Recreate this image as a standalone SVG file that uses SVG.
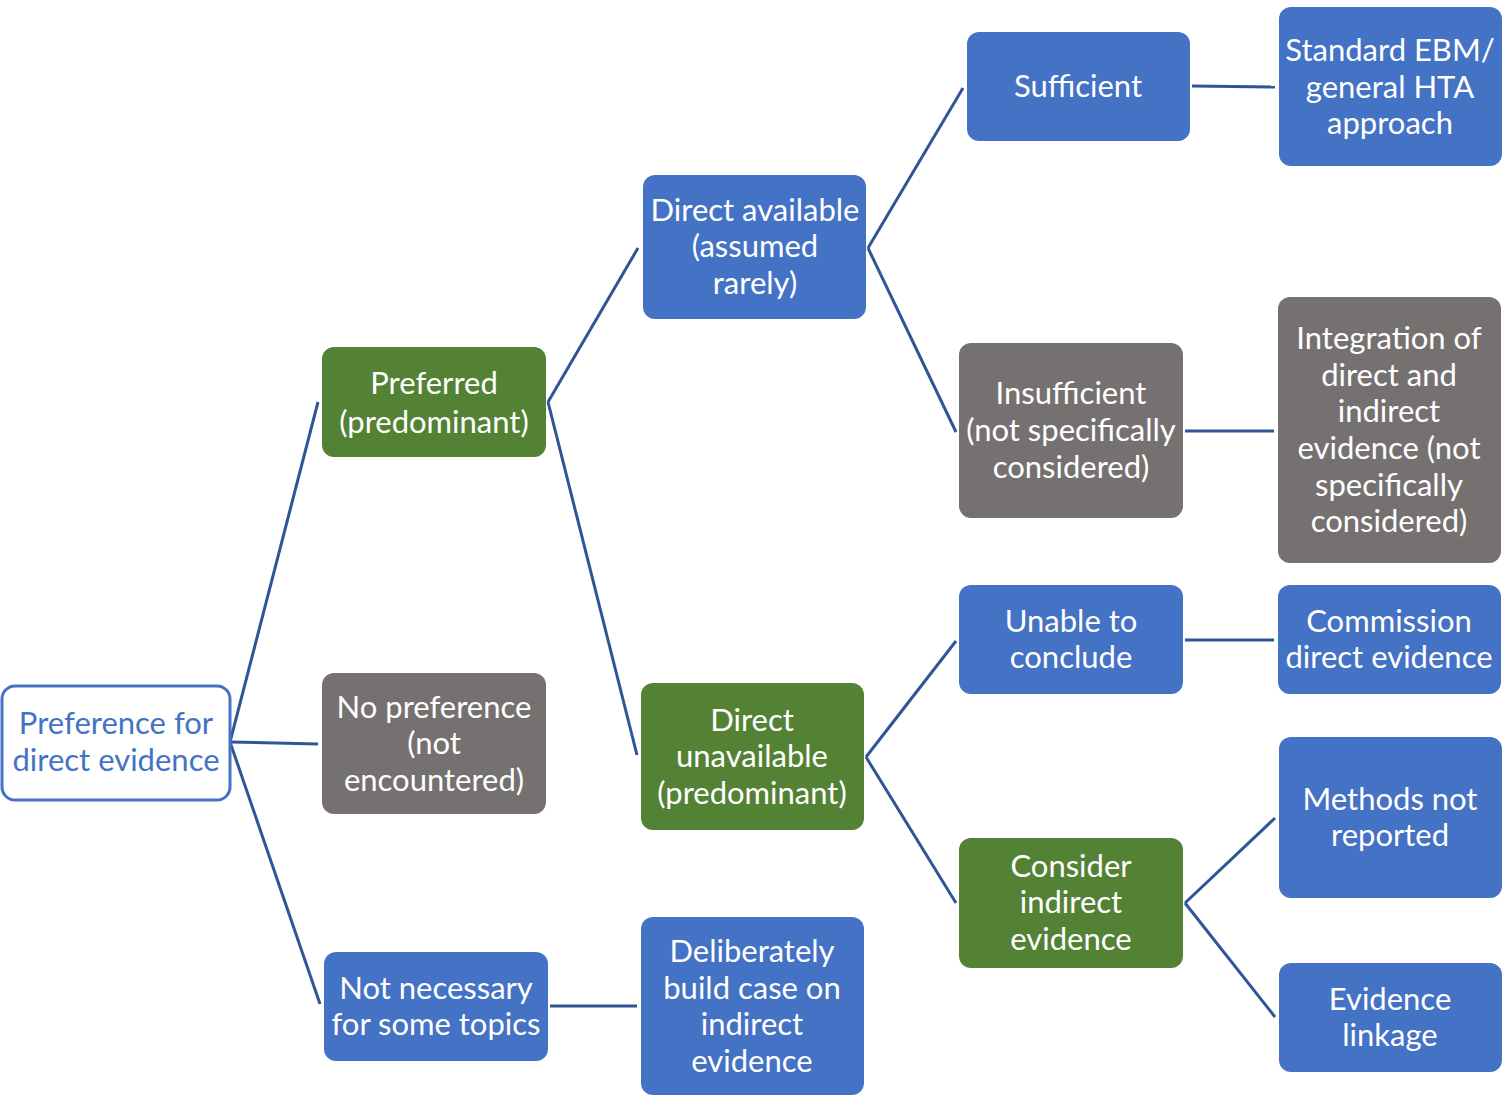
<svg xmlns="http://www.w3.org/2000/svg" width="1508" height="1100" viewBox="0 0 1508 1100">
<style>
.b{fill:#4472C4}
.g{fill:#548235}
.k{fill:#767171}
.w{fill:#ffffff;stroke:#4472C4;stroke-width:3}
text{font-family:Lato,"Open Sans","Liberation Sans",sans-serif;font-size:31px;fill:#ffffff;text-anchor:middle}
.tb{fill:#4472C4}
#connectors line{stroke:#2F5597;stroke-width:3;fill:none}
</style>
<rect width="1508" height="1100" fill="#ffffff"/>
<g id="connectors">
<line x1="230" y1="742" x2="318" y2="402"/>
<line x1="230" y1="742" x2="318" y2="744"/>
<line x1="230" y1="742" x2="320" y2="1004"/>
<line x1="548" y1="402" x2="638" y2="248"/>
<line x1="548" y1="402" x2="637" y2="755"/>
<line x1="550" y1="1006" x2="637" y2="1006"/>
<line x1="868" y1="248" x2="963" y2="88"/>
<line x1="868" y1="248" x2="956" y2="432"/>
<line x1="866" y1="757" x2="956" y2="641"/>
<line x1="866" y1="757" x2="956" y2="903"/>
<line x1="1192" y1="86" x2="1275" y2="87"/>
<line x1="1185" y1="431" x2="1274" y2="431"/>
<line x1="1185" y1="640" x2="1274" y2="640"/>
<line x1="1185" y1="903" x2="1275" y2="818"/>
<line x1="1185" y1="903" x2="1275" y2="1017"/>
</g>
<g id="root"><rect class="w" x="2" y="686" width="228" height="114" rx="13"/><text class="tb" x="116" y="734">Preference for</text><text class="tb" x="116" y="771">direct evidence</text></g>
<g id="preferred"><rect class="g" x="322" y="347" width="224" height="110" rx="12"/><text x="434" y="394">Preferred</text><text x="434" y="433">(predominant)</text></g>
<g id="nopref"><rect class="k" x="322" y="673" width="224" height="141" rx="12"/><text x="434" y="718">No preference</text><text x="434" y="754">(not</text><text x="434" y="791">encountered)</text></g>
<g id="notnecessary"><rect class="b" x="324" y="952" width="224" height="109" rx="12"/><text x="436" y="999">Not necessary</text><text x="436" y="1035">for some topics</text></g>
<g id="directavailable"><rect class="b" x="643" y="175" width="223" height="144" rx="12"/><text x="755" y="221">Direct available</text><text x="755" y="257">(assumed</text><text x="755" y="294">rarely)</text></g>
<g id="directunavailable"><rect class="g" x="641" y="683" width="223" height="147" rx="12"/><text x="752" y="731">Direct</text><text x="752" y="767">unavailable</text><text x="752" y="804">(predominant)</text></g>
<g id="deliberately"><rect class="b" x="641" y="917" width="223" height="178" rx="12"/><text x="752" y="962">Deliberately</text><text x="752" y="999">build case on</text><text x="752" y="1035">indirect</text><text x="752" y="1072">evidence</text></g>
<g id="sufficient"><rect class="b" x="967" y="32" width="223" height="109" rx="12"/><text x="1078" y="97">Sufficient</text></g>
<g id="insufficient"><rect class="k" x="959" y="343" width="224" height="175" rx="12"/><text x="1071" y="404">Insufficient</text><text x="1071" y="441">(not specifically</text><text x="1071" y="478">considered)</text></g>
<g id="unable"><rect class="b" x="959" y="585" width="224" height="109" rx="12"/><text x="1071" y="632">Unable to</text><text x="1071" y="668">conclude</text></g>
<g id="consider"><rect class="g" x="959" y="838" width="224" height="130" rx="12"/><text x="1071" y="877">Consider</text><text x="1071" y="913">indirect</text><text x="1071" y="950">evidence</text></g>
<g id="standard"><rect class="b" x="1279" y="7" width="223" height="159" rx="12"/><text x="1390" y="61">Standard EBM/</text><text x="1390" y="98">general HTA</text><text x="1390" y="134">approach</text></g>
<g id="integration"><rect class="k" x="1278" y="297" width="223" height="266" rx="12"/><text x="1389" y="349">Integration of</text><text x="1389" y="386">direct and</text><text x="1389" y="422">indirect</text><text x="1389" y="459">evidence (not</text><text x="1389" y="496">specifically</text><text x="1389" y="532">considered)</text></g>
<g id="commission"><rect class="b" x="1278" y="585" width="223" height="109" rx="12"/><text x="1389" y="632">Commission</text><text x="1389" y="668">direct evidence</text></g>
<g id="methods"><rect class="b" x="1279" y="737" width="223" height="161" rx="12"/><text x="1390" y="810">Methods not</text><text x="1390" y="846">reported</text></g>
<g id="linkage"><rect class="b" x="1279" y="963" width="223" height="109" rx="12"/><text x="1390" y="1010">Evidence</text><text x="1390" y="1046">linkage</text></g>
</svg>
